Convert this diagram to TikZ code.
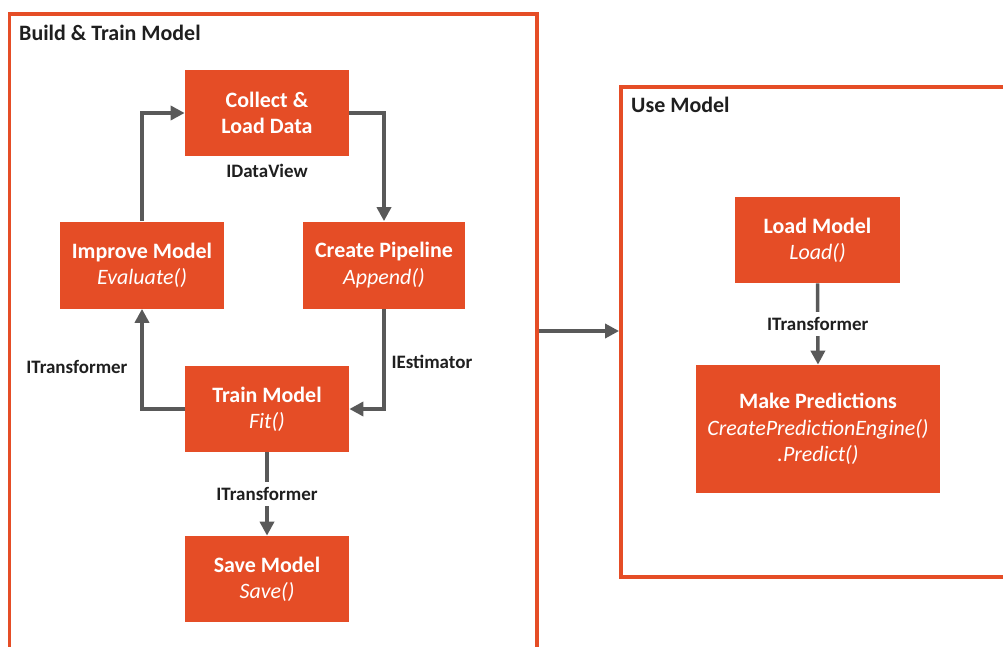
\documentclass[tikz,border=0pt]{standalone}
\usepackage{fontspec}
\setmainfont{Carlito}
\usetikzlibrary{positioning,arrows.meta}
\definecolor{mlOrange}{RGB}{229, 77, 38}
\definecolor{mlGray}{RGB}{89, 89, 89}
\definecolor{mlText}{RGB}{31, 31, 31}

\begin{document}
\begin{tikzpicture}[node distance=0.12cm,
    stage/.style={fill=mlOrange, text=white, align=center, minimum width=3.28cm, minimum height=1.72cm, inner sep=2pt, font=\fontsize{12.5pt}{15pt}\selectfont},
    area/.style={draw=mlOrange, line width=2.2pt},
    flow/.style={draw=mlGray, line width=2pt, -{Triangle[length=8pt,width=8pt]}},
    tag/.style={text=mlText, font=\bfseries\fontsize{10.8pt}{12pt}\selectfont, inner sep=1pt}]
    \useasboundingbox (0,0) rectangle (20.06,12.92);
    % frames
    \node[area, minimum width=10.55cm, minimum height=12.94cm] (build) at (5.465,6.17) {};
    \node[area, minimum width=8.08cm, minimum height=9.8cm] (use) at (16.46,6.28) {};
    \node[anchor=west, text=mlText, font=\bfseries\fontsize{12.5pt}{14pt}\selectfont] (buildtitle) at (0.26,12.26) {Build \& Train Model};
    \node[anchor=west, text=mlText, font=\bfseries\fontsize{12.5pt}{14pt}\selectfont] (usetitle) at (12.5,10.82) {Use Model};
    % build & train steps
    \node[stage] (collect) at (5.34,10.66) {\textbf{Collect \&}\\\textbf{Load Data}};
    \node[stage, minimum width=3.24cm, minimum height=1.74cm] (pipeline) at (7.68,7.62) {\textbf{Create Pipeline}\\\textit{Append()}};
    \node[stage, minimum height=1.74cm] (improve) at (2.84,7.62) {\textbf{Improve Model}\\\textit{Evaluate()}};
    \node[stage] (train) at (5.34,4.74) {\textbf{Train Model}\\\textit{Fit()}};
    \node[stage] (save) at (5.34,1.34) {\textbf{Save Model}\\\textit{Save()}};
    \node[tag, below=of collect] (dataview) {IDataView};
    % use steps
    \node[stage, minimum width=3.3cm] (load) at (16.35,8.12) {\textbf{Load Model}\\\textit{Load()}};
    \node[stage, minimum width=4.88cm, minimum height=2.56cm] (predict) at (16.36,4.34) {\textbf{Make Predictions}\\\textit{CreatePredictionEngine()}\\\textit{.Predict()}};
    % connectors
    \draw[flow] (improve.north) |- (collect.west);
    \draw[flow] (collect.east) -| (pipeline.north);
    \draw[flow] (pipeline.south) |- (train.east) node[tag, pos=0.265, anchor=west, xshift=0.08cm] {IEstimator};
    \draw[flow] (train.west) -| (improve.south) node[tag, pos=0.71, anchor=east, xshift=-0.22cm] {ITransformer};
    \draw[flow] (train.south) -- (save.north) node[tag, midway, fill=white, inner ysep=3pt] {ITransformer};
    \coordinate (link) at (11.5,6.3);
    \draw[flow] (build.east |- link) -- (use.west |- link);
    \draw[flow] (load.south) -- (predict.north) node[tag, midway, fill=white, inner ysep=3pt] {ITransformer};
\end{tikzpicture}
\end{document}
